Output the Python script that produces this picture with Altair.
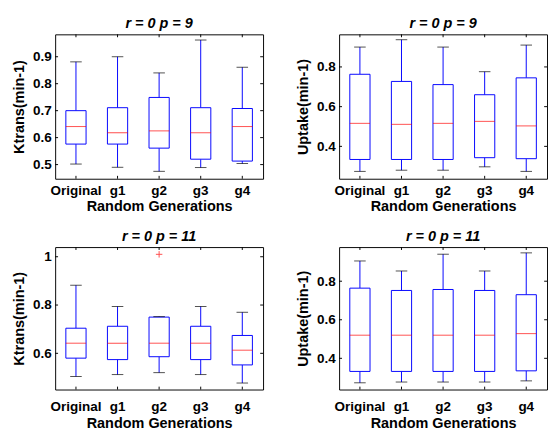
import altair as alt
import pandas as pd

cats = ["Original", "g1", "g2", "g3", "g4"]

# Top-left: Ktrans, r = 0 p = 9
tl_lo = [0.502, 0.490, 0.475, 0.489, 0.504]
tl_q1 = [0.576, 0.576, 0.561, 0.520, 0.513]
tl_med = [0.641, 0.618, 0.625, 0.618, 0.641]
tl_q3 = [0.700, 0.711, 0.749, 0.711, 0.708]
tl_hi = [0.881, 0.900, 0.840, 0.962, 0.861]

# Top-right: Uptake, r = 0 p = 9
tr_lo = [0.274, 0.280, 0.280, 0.297, 0.274]
tr_q1 = [0.334, 0.334, 0.334, 0.343, 0.338]
tr_med = [0.516, 0.511, 0.516, 0.526, 0.503]
tr_q3 = [0.763, 0.727, 0.711, 0.660, 0.745]
tr_hi = [0.900, 0.937, 0.900, 0.776, 0.910]

# Bottom-left: Ktrans, r = 0 p = 11
bl_lo = [0.504, 0.512, 0.520, 0.512, 0.477]
bl_q1 = [0.580, 0.574, 0.586, 0.574, 0.552]
bl_med = [0.642, 0.642, 0.642, 0.642, 0.613]
bl_q3 = [0.704, 0.712, 0.750, 0.712, 0.674]
bl_hi = [0.882, 0.794, 0.752, 0.794, 0.770]
bl_out_cat = ["g2"]
bl_out_val = [1.01]

# Bottom-right: Uptake, r = 0 p = 11
br_lo = [0.273, 0.277, 0.277, 0.277, 0.283]
br_q1 = [0.332, 0.332, 0.332, 0.332, 0.335]
br_med = [0.520, 0.520, 0.520, 0.520, 0.528]
br_q3 = [0.764, 0.752, 0.757, 0.752, 0.730]
br_hi = [0.905, 0.853, 0.940, 0.853, 0.947]

FONT = "Liberation Sans"
W = 216
BOXW = 21
CAPW = 12
BLUE = "#0000ff"
RED = "#ff0000"


def panel(title, ytitle, lo, q1, med, q3, hi, yticks, ydomain, height,
          xlabpad, out_cat=None, out_val=None):
    df = pd.DataFrame({"cat": cats, "lo": lo, "q1": q1, "med": med,
                       "q3": q3, "hi": hi})
    tdf = pd.DataFrame({"t": yticks})
    xs = alt.Scale(domain=cats, paddingInner=0.5, paddingOuter=0.25)
    ys = alt.Scale(domain=ydomain, nice=False, zero=False)
    xax = alt.Axis(title="Random Generations", labelAngle=0,
                   ticks=False, domain=False, labelPadding=xlabpad,
                   titlePadding=2, labelOverlap=False)
    yax = alt.Axis(title=ytitle, values=yticks, format="~g",
                   ticks=False, domain=False, grid=False,
                   labelPadding=4, titlePadding=6, labelOverlap=False,
                   labelBound=False, labelFlush=False)

    def X():
        return alt.X("cat:N", sort=cats, scale=xs, axis=xax)

    def Y(f):
        return alt.Y(f, scale=ys, axis=yax)

    base = alt.Chart(df)
    whisk_lo = base.mark_rule(color=BLUE, strokeWidth=1).encode(
        x=X(), y=Y("lo:Q"), y2="q1:Q")
    whisk_hi = base.mark_rule(color=BLUE, strokeWidth=1).encode(
        x=X(), y=Y("q3:Q"), y2="hi:Q")
    box = base.mark_bar(fill="white", stroke=BLUE, strokeWidth=1,
                        width=BOXW).encode(
        x=X(), y=Y("q1:Q"), y2="q3:Q")
    cap_lo = base.mark_tick(color="black", thickness=1, size=CAPW).encode(
        x=X(), y=Y("lo:Q"))
    cap_hi = base.mark_tick(color="black", thickness=1, size=CAPW).encode(
        x=X(), y=Y("hi:Q"))
    median = base.mark_tick(color=RED, thickness=1, size=BOXW).encode(
        x=X(), y=Y("med:Q"))
    # inward tick marks (MATLAB style)
    xt_bot = base.mark_rule(color="black", strokeWidth=1).encode(
        x=X(), y=alt.value(height - 3), y2=alt.value(height))
    xt_top = base.mark_rule(color="black", strokeWidth=1).encode(
        x=X(), y=alt.value(0), y2=alt.value(3))
    yt_left = alt.Chart(tdf).mark_rule(color="black", strokeWidth=1).encode(
        y=Y("t:Q"), x=alt.value(0), x2=alt.value(3))
    yt_right = alt.Chart(tdf).mark_rule(color="black", strokeWidth=1).encode(
        y=Y("t:Q"), x=alt.value(W - 3), x2=alt.value(W))
    layers = [whisk_lo, whisk_hi, box, cap_lo, cap_hi, median,
              xt_bot, xt_top, yt_left, yt_right]
    if out_cat:
        odf = pd.DataFrame({"cat": out_cat, "v": out_val})
        layers.append(alt.Chart(odf).mark_point(
            shape="M-1,0L1,0M0,-1L0,1", filled=False, stroke=RED,
            strokeWidth=1, size=45).encode(
            x=X(), y=Y("v:Q")))
    return alt.layer(*layers).properties(
        width=W, height=height,
        title=alt.TitleParams(title, fontSize=15, fontWeight="bold",
                              fontStyle="italic", font=FONT, offset=3))


tl = panel("r = 0 p = 9", "Ktrans(min-1)", tl_lo, tl_q1, tl_med, tl_q3, tl_hi,
           [0.5, 0.6, 0.7, 0.8, 0.9], [0.4475, 0.983], 150, 5)
tr = panel("r = 0 p = 9", "Uptake(min-1)", tr_lo, tr_q1, tr_med, tr_q3, tr_hi,
           [0.4, 0.6, 0.8], [0.237, 0.964], 150, 5)
bl = panel("r = 0 p = 11", "Ktrans(min-1)", bl_lo, bl_q1, bl_med, bl_q3, bl_hi,
           [0.6, 0.8, 1.0], [0.450, 1.04], 148, 11, bl_out_cat, bl_out_val)
br = panel("r = 0 p = 11", "Uptake(min-1)", br_lo, br_q1, br_med, br_q3, br_hi,
           [0.4, 0.6, 0.8], [0.238, 0.977], 148, 11)

chart = alt.vconcat(
    alt.hconcat(tl, tr, spacing=33),
    alt.hconcat(bl, br, spacing=33),
    spacing=15,
).properties(
    padding={"left": 4, "top": 0, "right": 0, "bottom": 0}
).configure(
    font=FONT,
).configure_view(
    stroke="black", strokeWidth=1
).configure_axis(
    labelFont=FONT, labelFontSize=14, labelFontWeight="bold",
    labelColor="black", titleFont=FONT, titleFontSize=15,
    titleFontWeight="bold", titleColor="black",
)

chart.save("out.html", embed_options={"renderer": "svg", "actions": False})
